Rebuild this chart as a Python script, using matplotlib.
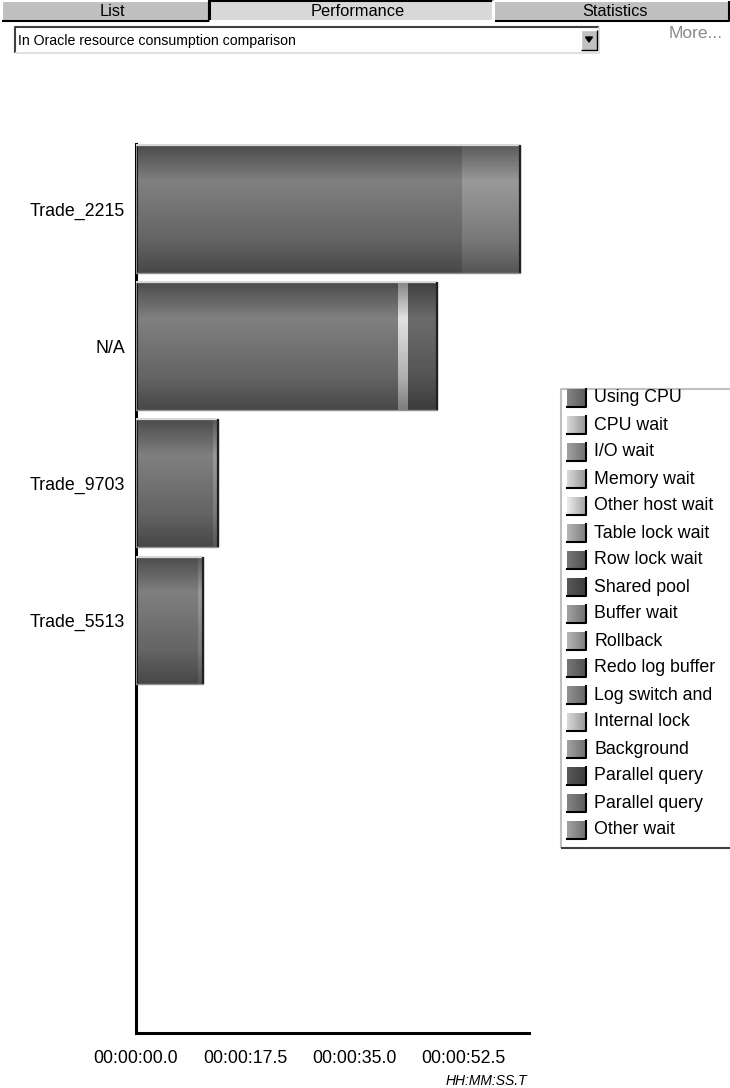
import numpy as np
import matplotlib
matplotlib.use('Agg')
import matplotlib.pyplot as plt
from matplotlib.patches import Rectangle, Polygon

plt.rcParams['font.family'] = ['Liberation Sans', 'DejaVu Sans']

# --- data (seconds) ---
categories = ['Trade_2215', 'N/A', 'Trade_9703', 'Trade_5513']
seg_names = ['Using CPU', 'Memory wait', 'I/O wait', 'Redo log buffer']
seg_values = [
    [52.2, 42.0, 12.3, 10.0],   # Using CPU
    [0.0, 1.6, 0.0, 0.0],       # Memory wait
    [9.4, 0.0, 0.8, 0.7],       # I/O wait
    [0.0, 4.7, 0.0, 0.0],       # Redo log buffer
]
xticks = [0, 17.5, 35, 52.5]
legend_names = ['Using CPU', 'CPU wait', 'I/O wait', 'Memory wait', 'Other host wait',
                'Table lock wait', 'Row lock wait', 'Shared pool', 'Buffer wait',
                'Rollback', 'Redo log buffer', 'Log switch and', 'Internal lock',
                'Background', 'Parallel query', 'Parallel query', 'Other wait']
legend_gray = [0.45, 0.74, 0.55, 0.74, 0.80, 0.62, 0.40, 0.30, 0.55,
               0.62, 0.40, 0.50, 0.74, 0.55, 0.30, 0.45, 0.55]
seg_peak = {'Using CPU': 0.50, 'Memory wait': 0.88, 'I/O wait': 0.60, 'Redo log buffer': 0.42}

W, H = 730, 1088
FS = 12.8
fig = plt.figure(figsize=(W / 100, H / 100), dpi=100)

# ---- UI layer in pixel coordinates ----
ui = fig.add_axes([0, 0, 1, 1], zorder=0)
ui.set_xlim(0, W)
ui.set_ylim(H, 0)
ui.axis('off')

def box(x0, y0, x1, y1, face, light='#ffffff', dark='#808080', lw=1.0):
    ui.add_patch(Rectangle((x0, y0), x1 - x0, y1 - y0, facecolor=face, edgecolor='none'))
    ui.plot([x0, x0, x1], [y1, y0, y0], color=light, lw=lw, solid_capstyle='butt')
    ui.plot([x0, x1, x1], [y1, y1, y0], color=dark, lw=lw, solid_capstyle='butt')

# tabs
box(2, 1, 209, 21, '#c0c0c0', light='#ffffff', dark='#000000', lw=1.5)
box(493, 1, 729, 21, '#c0c0c0', light='#ffffff', dark='#000000', lw=1.5)
box(209, 0, 493, 21, '#d8d8d8', light='#000000', dark='#ffffff', lw=2.2)
ui.text(112, 11, 'List', ha='center', va='center', fontsize=11.8)
ui.text(358, 12, 'Performance', ha='center', va='center', fontsize=11.8)
ui.text(615, 11, 'Statistics', ha='center', va='center', fontsize=11.8)

# combo box
box(15, 27, 599, 53, '#ffffff', light='#404040', dark='#e0e0e0', lw=1.5)
box(581, 30, 597, 50, '#c0c0c0', light='#ffffff', dark='#000000', lw=1.0)
ui.add_patch(Polygon([[585.5, 37], [592.5, 37], [589, 42]], closed=True, color='black'))
ui.text(18, 41, 'In Oracle resource consumption comparison', ha='left', va='center', fontsize=10.2)
ui.text(696, 34, 'More...', ha='center', va='center', fontsize=12.5, color='#8a8a8a')

# legend
box(561, 389, 736, 848, '#ffffff', light='#c0c0c0', dark='#404040', lw=1.5)
grad_h = np.linspace(1.15, 0.8, 20)[None, :]
for i, (name, g) in enumerate(zip(legend_names, legend_gray)):
    yc = 398 + i * 27.0
    ui.imshow(np.clip(g * grad_h, 0, 1), cmap='gray', vmin=0, vmax=1,
              extent=(567, 586, yc + 9, yc - 9), aspect='auto', zorder=2)
    ui.plot([567, 586, 586], [yc + 9, yc + 9, yc - 9], color='black', lw=1.5, zorder=3)
    ui.text(594, yc, name, ha='left', va='center', fontsize=FS)

# ---- chart ----
ax = fig.add_axes([136 / W, (H - 1033) / H, (529 - 136) / W, (1033 - 144) / H], zorder=1)
ax.patch.set_alpha(0)

ypos = np.arange(len(categories))
bar_h = 0.93
# vertical shading profile of the bars (top -> bottom)
prof = np.interp(np.linspace(0, 1, 64), [0, 0.28, 0.5, 0.75, 1.0], [0.6, 1.0, 0.9, 0.78, 0.56])[:, None]

lefts = np.zeros(len(categories))
for name, vals in zip(seg_names, seg_values):
    vals = np.array(vals)
    for y, l, v in zip(ypos, lefts, vals):
        if v <= 0:
            continue
        ax.imshow(np.clip(seg_peak[name] * prof, 0, 1), cmap='gray', vmin=0, vmax=1,
                  extent=(l, l + v, y + bar_h / 2, y - bar_h / 2), origin='upper',
                  aspect='auto', zorder=2)
    lefts = lefts + vals

totals = lefts
ax.barh(ypos, totals, height=bar_h, left=0, color='none', edgecolor='#909090', lw=1.0, zorder=3)
ax.hlines(ypos - bar_h / 2, 0, totals, color='#d8d8d8', lw=1.5, zorder=4)
ax.vlines(totals, ypos - bar_h / 2, ypos + bar_h / 2, color='#202020', lw=1.6, zorder=4)

ax.set_xlim(0, 63)
ax.set_ylim(6.01, -0.474)
ax.set_yticks(ypos)
ax.set_yticklabels(categories, fontsize=FS)
ax.set_xticks(xticks)
ax.set_xticklabels(['00:00:%04.1f' % t for t in xticks], fontsize=FS)
ax.tick_params(axis='y', length=0, pad=8)
ax.tick_params(axis='x', length=0, pad=12)
for s in ['top', 'right']:
    ax.spines[s].set_visible(False)
for s in ['left', 'bottom']:
    ax.spines[s].set_linewidth(2.2)
    ax.spines[s].set_color('black')
ax.text(0.995, -0.046, 'HH:MM:SS.T', transform=ax.transAxes, ha='right', va='top',
        fontsize=10, style='italic')

fig.savefig('out.png', dpi=100)
